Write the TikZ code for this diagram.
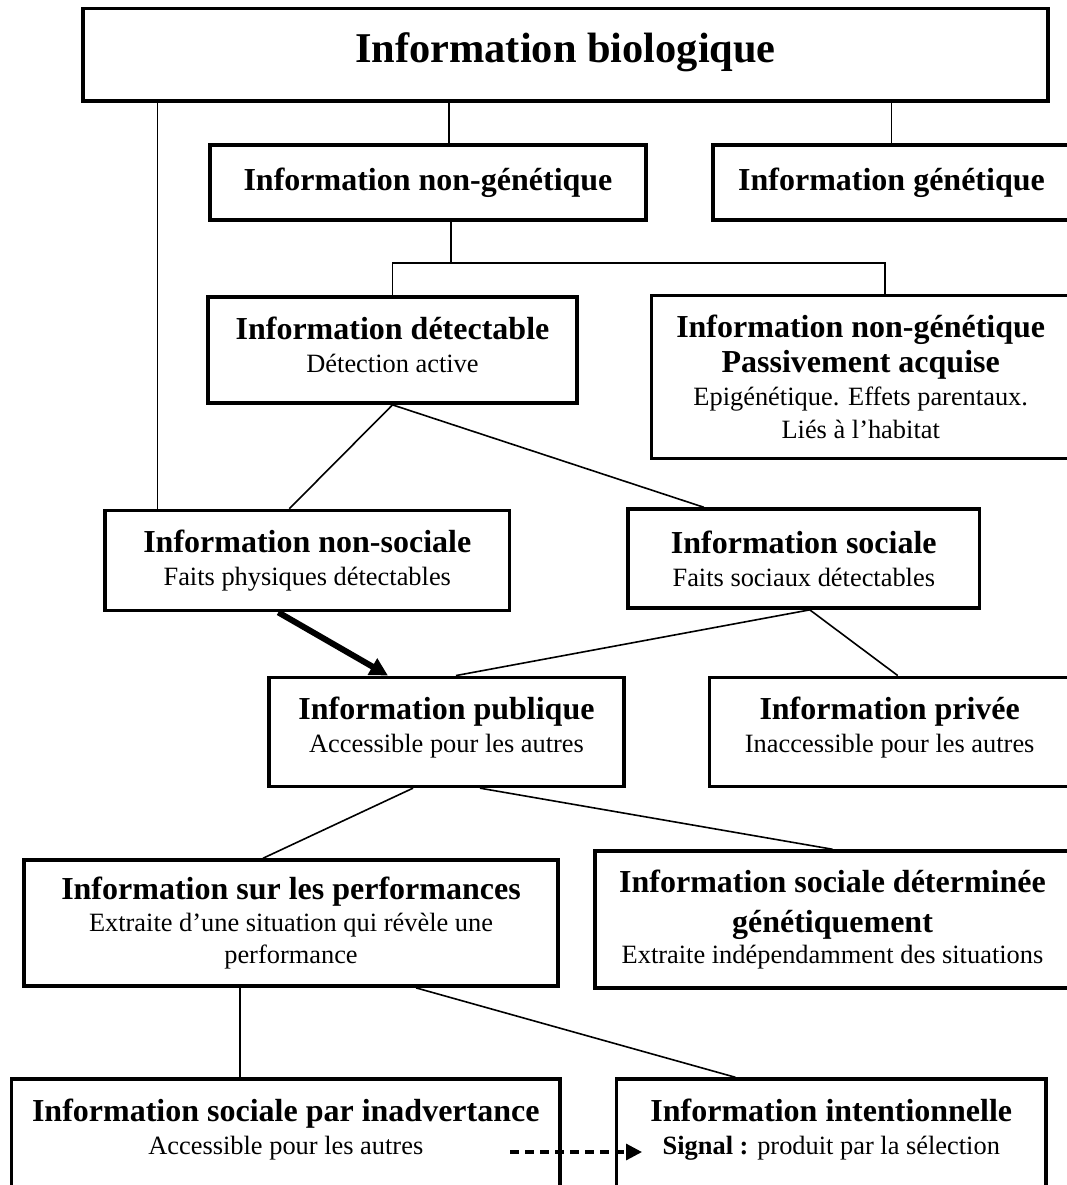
\documentclass[tikz,border=0pt]{standalone}
\usepackage{fontspec}
\setmainfont{Liberation Serif}
\usetikzlibrary{positioning,arrows.meta}

\newcommand\titre[1]{{\fontsize{16pt}{18pt}\selectfont\bfseries #1}}

\begin{document}
\begin{tikzpicture}[x=0.5pt,y=-0.5pt,on grid,
	every node/.style={font=\fontsize{13.2pt}{16.5pt}\selectfont},
	infobox/.style={draw,line width=1.8pt,align=center,inner sep=0pt},
	link/.style={line width=0.8pt},
	fleche/.style={line width=3pt,-{Triangle[length=9pt,width=9pt]}},
	signal/.style={line width=1.6pt,dash pattern=on 4.5pt off 3pt,-{Triangle[length=8pt,width=8pt]}}]
	\useasboundingbox (0,0) rectangle (1067,1185);
	\node[infobox,minimum width=482.5pt,minimum height=46.25pt,text depth=7pt,font=\fontsize{21.2pt}{24pt}\selectfont\bfseries] (bio) at (565.5,54.75) {Information biologique};
	\node[infobox,minimum width=218pt,minimum height=37.5pt] (nongen) [below left=63.9pt and 68.75pt of bio] {\titre{Information non-génétique}};
	\node[infobox,minimum width=178.5pt,minimum height=37.5pt] (gen) [right=231.75pt of nongen] {\titre{Information génétique}};
	\node[infobox,minimum width=184.5pt,minimum height=53pt,text depth=5pt] (detect) [below left=83.75pt and 17.75pt of nongen] {\titre{Information détectable}\\ Détection active};
	\node[infobox,minimum width=209.25pt,minimum height=81.5pt] (passiv) [below right=13.5pt and 234.1pt of detect] {\titre{Information non-génétique}\\[1.25pt] \titre{Passivement acquise}\\ Epigénétique. Effets parentaux.\\ Liés à l’habitat};
	\node[infobox,minimum width=202.25pt,minimum height=50pt] (nonsoc) [below left=105.25pt and 42.6pt of detect] {\titre{Information non-sociale}\\ Faits physiques détectables};
	\node[infobox,minimum width=175.75pt,minimum height=49.5pt] (soc) [above right=1pt and 248.25pt of nonsoc] {\titre{Information sociale}\\ Faits sociaux détectables};
	\node[infobox,minimum width=177.5pt,minimum height=54.5pt,text depth=6.9pt] (pub) [below right=85.65pt and 69.6pt of nonsoc] {\titre{Information publique}\\ Accessible pour les autres};
	\node[infobox,minimum width=180.25pt,minimum height=54.5pt,text depth=6.9pt] (priv) [right=221.6pt of pub] {\titre{Information privée}\\ Inaccessible pour les autres};
	\node[infobox,minimum width=267pt,minimum height=63pt] (perf) [below left=95.6pt and 77.75pt of pub] {\titre{Information sur les performances}\\[-0.5pt] Extraite d’une situation qui révèle une\\[-0.5pt] performance};
	\node[infobox,minimum width=237.5pt,minimum height=68.5pt] (determ) [above right=1.75pt and 270.75pt of perf] {\titre{Information sociale déterminée}\\[3.25pt] \titre{génétiquement}\\[-1pt] Extraite indépendamment des situations};
	\node[infobox,minimum width=274.25pt,minimum height=80.5pt,text depth=33pt] (inadv) [below left=118.25pt and 2.6pt of perf] {\titre{Information sociale par inadvertance}\\ Accessible pour les autres};
	\node[infobox,minimum width=214.75pt,minimum height=80.5pt,text depth=33pt] (intent) [right=272.75pt of inadv] {\titre{Information intentionnelle}\\ \textbf{Signal :} produit par la sélection};
	\coordinate (bus) at ([yshift=-20.6pt]nongen.south);
	\coordinate (sigfrom) at (510,1152);
	\coordinate (sigto) at (642,1152);
	\draw[link] ([xshift=-75pt]nonsoc.north) -- ([xshift=-75pt]nonsoc.north |- bio.south);
	\draw[link] ([xshift=10.5pt]nongen.north) -- ([xshift=10.5pt]nongen.north |- bio.south);
	\draw[link] (gen.north) -- (gen.north |- bio.south);
	\draw[link] ([xshift=11.5pt]nongen.south) -- ([xshift=11.5pt]nongen.south |- bus);
	\draw[link] (detect.north) |- ([xshift=12pt]passiv.north |- bus) -- ([xshift=12pt]passiv.north);
	\draw[link] (detect.south) -- ([xshift=-9pt]nonsoc.north);
	\draw[link] (detect.south) -- ([xshift=-50pt]soc.north);
	\draw[fleche] ([xshift=-14.5pt]nonsoc.south) -- ([xshift=-29.25pt]pub.north);
	\draw[link] ([xshift=3pt]soc.south) -- ([xshift=4.75pt]pub.north);
	\draw[link] ([xshift=3pt]soc.south) -- ([xshift=4pt]priv.north);
	\draw[link] ([xshift=-16.75pt]pub.south) -- ([xshift=-14pt]perf.north);
	\draw[link] ([xshift=16.75pt]pub.south) -- (determ.north);
	\draw[link] ([xshift=-25.5pt]perf.south) -- ([xshift=-25.5pt]perf.south |- inadv.north);
	\draw[link] ([xshift=62.5pt]perf.south) -- ([xshift=-48pt]intent.north);
	\draw[signal] (sigfrom) -- (sigto);
\end{tikzpicture}
\end{document}
